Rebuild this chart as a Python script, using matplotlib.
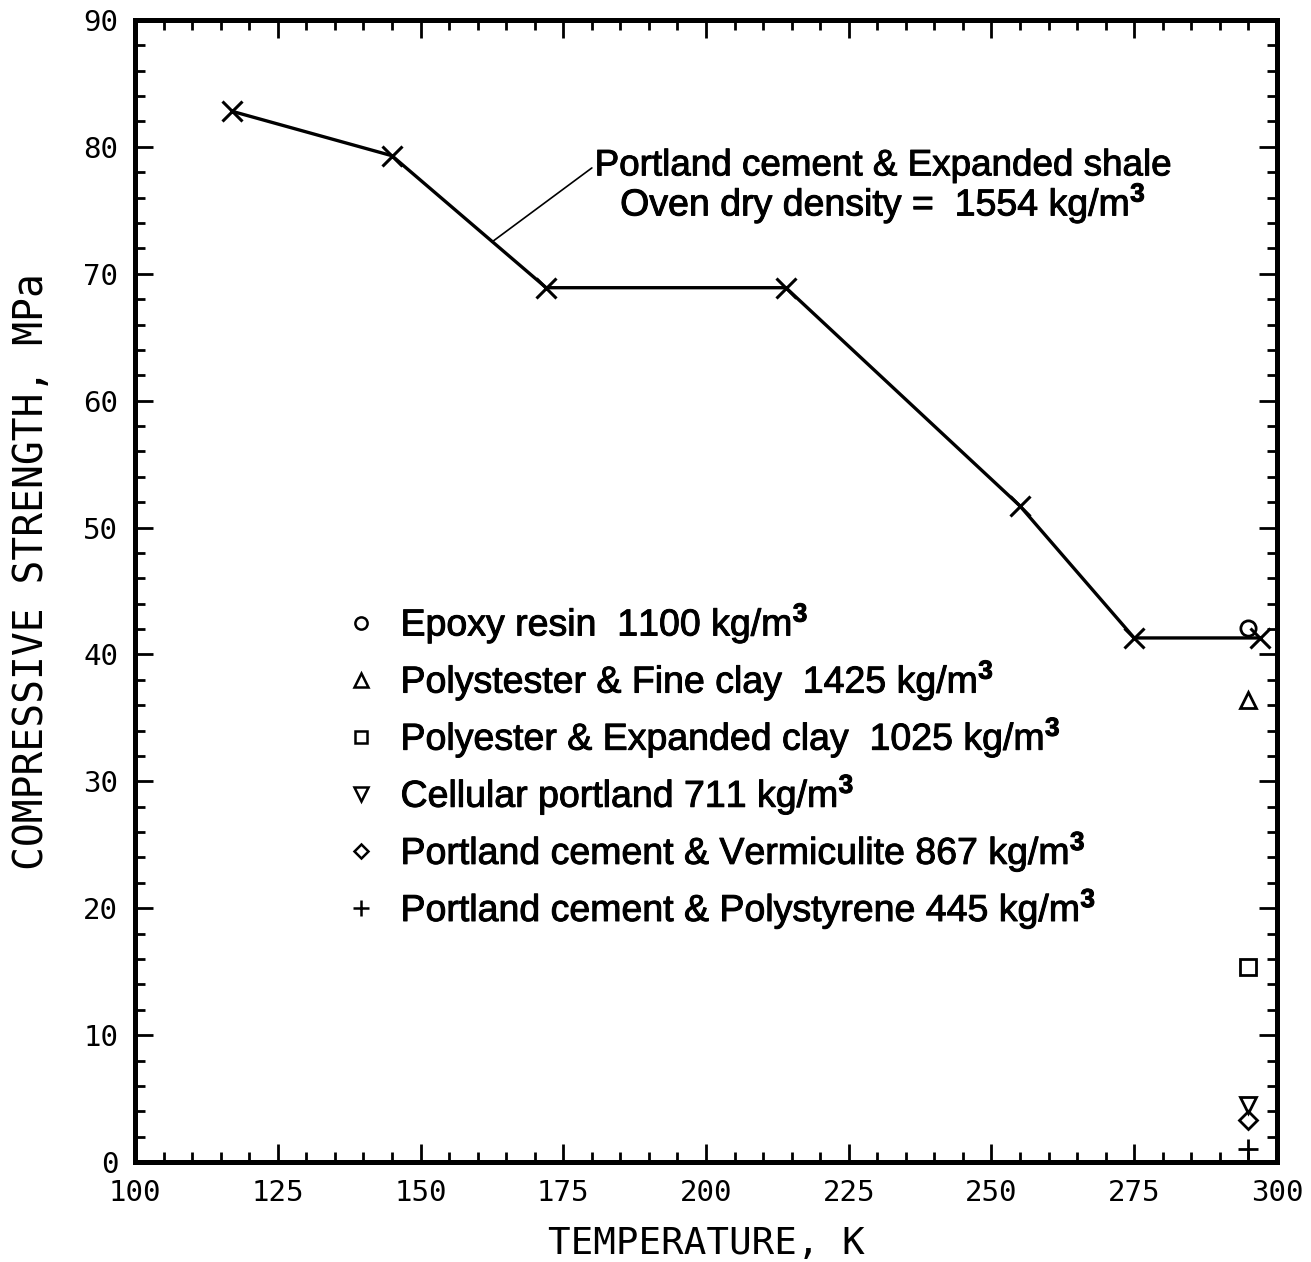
import matplotlib
matplotlib.use("Agg")
import matplotlib.pyplot as plt
import matplotlib.patheffects as pe
from matplotlib.ticker import MultipleLocator

# ---- data ----
temp_shale = [117, 145, 172, 214, 255, 275, 297]
strength_shale = [82.8, 79.3, 68.9, 68.9, 51.7, 41.3, 41.3]

other_temp = 295
other_labels = [
    "Epoxy resin  1100 kg/m$^{\\mathbf{3}}$",
    "Polystester & Fine clay  1425 kg/m$^{\\mathbf{3}}$",
    "Polyester & Expanded clay  1025 kg/m$^{\\mathbf{3}}$",
    "Cellular portland 711 kg/m$^{\\mathbf{3}}$",
    "Portland cement & Vermiculite 867 kg/m$^{\\mathbf{3}}$",
    "Portland cement & Polystyrene 445 kg/m$^{\\mathbf{3}}$",
]
other_markers = ["o", "^", "s", "v", "D", "+"]
other_values = [42.1, 36.4, 15.4, 4.5, 3.3, 1.0]

x_ticks = [100, 125, 150, 175, 200, 225, 250, 275, 300]
y_ticks = [0, 10, 20, 30, 40, 50, 60, 70, 80, 90]

plt.rcParams['mathtext.fontset'] = 'custom'
plt.rcParams['mathtext.rm'] = 'Liberation Sans'
plt.rcParams['mathtext.bf'] = 'Liberation Sans:bold'
plt.rcParams['mathtext.it'] = 'Liberation Sans:italic'

fig = plt.figure(figsize=(13.11, 12.62), dpi=100)
ax = fig.add_axes([0.103, 0.0792, 0.871, 0.905])

ax.plot(temp_shale, strength_shale, color='black', lw=2.4, marker='x',
        markersize=15, markeredgewidth=2.2)

msizes = {"o": 11, "^": 12, "s": 11, "v": 12, "D": 9, "+": 15}
for m, v in zip(other_markers, other_values):
    ax.plot([other_temp], [v], linestyle='none', marker=m, markersize=msizes[m],
            markerfacecolor='none', markeredgecolor='black', markeredgewidth=2)

ax.set_xlim(100, 300)
ax.set_ylim(0, 90)
ax.set_xticks(x_ticks)
ax.set_yticks(y_ticks)
ax.xaxis.set_minor_locator(MultipleLocator(5))
ax.yaxis.set_minor_locator(MultipleLocator(2))
ax.tick_params(which='both', direction='in', top=True, right=True,
               labeltop=False, labelright=False)
ax.tick_params(which='major', length=13, width=2, labelsize=21, pad=12)
ax.tick_params(which='minor', length=7, width=2)
for s in ax.spines.values():
    s.set_linewidth(3.6)

mono = ['DejaVu Sans Mono']
ax.set_xlabel("TEMPERATURE, K", labelpad=14, family=mono, fontsize=27)
ax.set_ylabel("COMPRESSIVE STRENGTH, MPa", family=mono, fontsize=28.5)
ax.yaxis.set_label_coords(-0.073, 0.517)
for t in ax.get_xticklabels() + ax.get_yticklabels():
    t.set_family(mono)

# legend-like list
bold = [pe.withStroke(linewidth=0.7, foreground='black')]
txt_font = dict(family=['Liberation Sans', 'DejaVu Sans'], fontsize=27)
y0 = 42.5
dy = 4.5
for i, (m, lab) in enumerate(zip(other_markers, other_labels)):
    yy = y0 - i * dy
    ax.plot([139.5], [yy],
            linestyle='none', marker=m, markersize=msizes[m] * 0.8,
            markerfacecolor='none', markeredgecolor='black', markeredgewidth=1.8)
    t = ax.text(146.5, yy, lab, ha='left', va='center', **txt_font)
    t.set_path_effects(bold)

# annotation
an = ax.annotate("Portland cement & Expanded shale", xy=(162.5, 72.5),
                 xytext=(180.5, 78.5), ha='left', va='center',
                 arrowprops=dict(arrowstyle='-', color='black', lw=1.2,
                                 shrinkA=0, shrinkB=0, relpos=(0, 0.5)),
                 family=['Liberation Sans', 'DejaVu Sans'], fontsize=26.5)
an.set_path_effects(bold)
t2 = ax.text(231.0, 75.6, "Oven dry density =  1554 kg/m$^{\\mathbf{3}}$",
             ha='center', va='center', **txt_font)
t2.set_path_effects(bold)

fig.savefig("out.png", dpi=100)
